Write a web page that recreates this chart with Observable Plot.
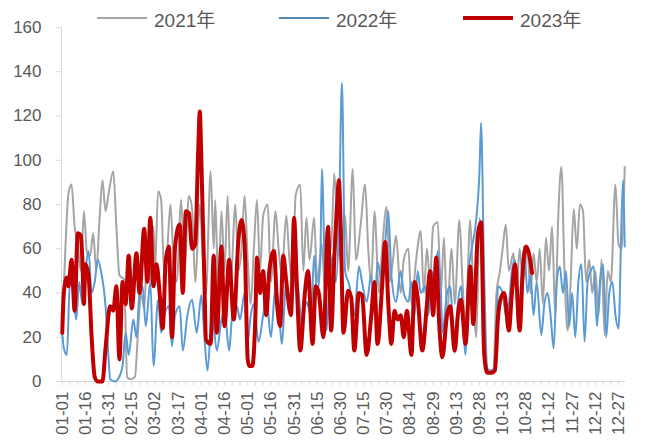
<!DOCTYPE html>
<html><head><meta charset="utf-8">
<script src="https://cdn.jsdelivr.net/npm/d3@7"></script>
<script src="https://cdn.jsdelivr.net/npm/@observablehq/plot@0.6"></script>
<style>
body{margin:0;background:#fff;}
#wrap{position:relative;width:663px;height:445px;overflow:hidden;}
#legend{position:absolute;top:0;left:0;width:663px;height:38px;font-family:"Liberation Sans","Noto Sans CJK SC",sans-serif;font-size:19px;color:#595959;z-index:2;}
.item{position:absolute;top:7px;height:22px;display:flex;align-items:center;white-space:nowrap;}
.sw{display:inline-block;width:50px;margin-right:7px;}
#chart{position:absolute;top:0;left:0;}
</style></head>
<body><div id="wrap"><div id="legend"></div><div id="chart"></div></div>
<script>
// Series names
const seriesNames = ["2021年", "2022年", "2023年"];

// x tick labels (every 15 days from 01-01)
const tickLabels = ["01-01","01-16","01-31","02-15","03-02","03-17","04-01","04-16","05-01","05-16","05-31","06-15","06-30","07-15","07-30","08-14","08-29","09-13","09-28","10-13","10-28","11-12","11-27","12-12","12-27"];
const labelDays = tickLabels.map((_, i) => i * 15);
const yTicks = [0, 20, 40, 60, 80, 100, 120, 140, 160];

// 2021 (day of year index, value)
const days2021 = [0,2,4,6,8,10,12,14,16,18,20,22,24,26,28,30,33,35,37,40,42,44,47,49,51,53,55,57,59,60,62,64,66,68,70,72,74,77,79,82,84,86,89,91,93,96,98,99,101,103,105,107,109,112,114,116,118,120,122,124,126,128,130,133,135,138,140,142,145,147,149,151,154,156,158,160,163,165,168,170,172,174,176,178,180,183,185,188,190,193,196,198,200,202,205,207,210,212,214,216,219,221,224,226,229,232,234,236,238,240,243,245,247,249,252,254,257,259,261,264,266,268,270,272,274,276,279,281,283,285,287,289,292,294,296,298,301,303,305,307,309,311,313,315,317,319,321,323,325,327,329,331,333,335,337,339,341,343,345,347,349,351,353,355,358,360,362,364];
const vals2021 = [25,60,85,89,70,62,50,77,58,57,67,50,72,91,77,85,95,70,48,46,2,1,2,22,40,33,60,45,70,50,86,82,48,60,80,55,45,82,50,84,78,45,80,55,40,95,60,82,40,77,50,84,45,80,50,60,84,55,35,60,82,50,75,80,45,77,60,48,75,55,45,84,89,50,74,55,74,45,62,40,68,60,94,70,55,75,50,96,55,70,89,60,45,77,40,60,79,45,55,66,40,55,60,35,55,68,40,60,45,70,72,40,65,30,60,35,73,45,25,73,40,20,74,40,8,4,5,40,49,60,71,50,58,40,60,45,60,40,58,45,60,35,65,50,70,30,75,97,50,23,45,78,60,80,77,45,55,40,50,30,55,21,50,45,89,62,60,97];

// 2022
const days2022 = [0,1,3,5,7,9,11,13,15,17,19,21,23,25,28,30,31,34,36,39,41,43,46,48,50,52,54,57,59,62,64,66,69,71,73,76,78,81,84,87,90,92,94,97,100,103,105,108,110,113,115,118,120,122,124,127,130,132,135,138,140,142,145,148,151,153,155,158,161,163,165,167,168,170,171,173,175,177,179,181,183,186,189,192,194,197,200,202,204,207,209,211,213,216,219,221,224,226,228,230,232,235,237,239,241,243,245,246,249,251,254,256,258,261,263,265,268,270,271,273,275,277,280,282,285,287,289,291,293,295,297,299,301,303,305,307,310,312,314,316,318,320,322,324,326,328,330,332,334,336,338,340,342,344,346,348,350,352,354,356,358,360,362,363,364];
const vals2022 = [22,15,12,46,40,28,45,35,50,59,40,45,55,50,34,10,1,0,1,7,22,12,28,20,40,43,25,45,7,37,22,30,34,16,30,34,14,30,37,22,39,20,5,31,14,28,32,14,30,34,28,40,18,30,35,18,30,39,20,43,35,17,45,32,50,40,25,36,30,57,40,55,96,45,23,45,57,45,70,135,50,43,30,52,45,36,48,30,54,45,63,77,48,36,50,40,36,45,30,50,40,43,30,50,45,59,40,22,40,43,13,35,43,12,50,60,74,95,117,50,6,5,6,43,40,30,35,50,55,25,45,61,40,48,30,45,21,35,40,30,15,45,52,40,50,25,40,20,45,53,18,45,50,52,25,45,53,20,40,45,30,24,75,91,61];

// 2023 (to end of October)
const days2023 = [0,1,3,4,6,8,10,12,13,14,15,17,19,21,23,26,28,31,33,35,37,39,41,43,45,48,50,53,55,57,59,61,63,65,67,69,71,73,76,78,80,82,84,86,88,89,90,92,93,96,98,100,103,105,108,111,114,116,118,120,121,123,125,126,128,130,132,134,137,139,141,143,145,148,150,152,154,157,159,162,164,166,169,172,174,176,178,179,180,182,185,187,189,192,194,197,200,202,204,207,209,211,213,215,217,219,221,223,226,228,230,233,236,238,240,242,244,246,249,251,254,256,258,261,264,266,269,271,273,275,278,280,282,284,286,289,291,293,296,298,300,302,304];
const vals2023 = [22,40,47,43,55,32,67,66,55,35,53,48,20,2,0,0,15,34,32,43,10,45,35,57,33,58,40,69,45,74,43,53,40,24,55,61,20,61,71,40,77,76,60,62,105,122,100,45,19,17,57,22,61,25,55,28,64,73,62,10,7,7,30,56,40,50,30,50,59,35,25,57,45,30,74,40,14,40,50,17,43,40,20,70,23,55,82,91,75,22,41,38,14,40,39,12,30,45,17,43,63,35,17,32,28,30,20,32,12,45,38,14,35,50,30,56,25,11,30,34,14,30,37,17,52,26,67,72,13,4,4,5,29,38,40,23,40,53,23,50,61,58,49];

const colors = ["#a5a5a5", "#5b9bd5", "#c00000"];
const widths = [2, 2, 4];

const toRows = (days, vals) => days.map((d, i) => ({day: d, value: vals[i]}));
const rows = [toRows(days2021, vals2021), toRows(days2022, vals2022), toRows(days2023, vals2023)];

const minorTicks = d3.range(0, 365, 5);
const xMin = -0.5, xMax = 364.5;
const font = '"Liberation Sans","Noto Sans CJK SC",sans-serif';

const chart = Plot.plot({
  width: 663, height: 445,
  marginLeft: 61, marginRight: 38, marginTop: 27, marginBottom: 64,
  x: {domain: [xMin, xMax]},
  y: {domain: [0, 160]},
  style: {fontFamily: font, fontSize: "17px", color: "#595959", background: "#fff", overflow: "visible"},
  marks: [
    Plot.ruleY([0], {stroke: "#d9d9d9", strokeWidth: 1}),
    Plot.ruleX([xMin], {stroke: "#d9d9d9", strokeWidth: 1}),
    Plot.axisY({ticks: yTicks, tickSize: 5, tickPadding: 15, stroke: "#d9d9d9", strokeOpacity: 1, fill: "#595959", fontSize: 17, label: null}),
    Plot.axisX({ticks: minorTicks, tickSize: 4, text: null, stroke: "#d9d9d9", strokeOpacity: 1, label: null}),
    Plot.axisX({ticks: labelDays, tickSize: 0, tickRotate: -90, tickPadding: 10, tickFormat: d => tickLabels[labelDays.indexOf(d)], fill: "#595959", fontSize: 17, label: null}),
    ...rows.map((r, i) => Plot.line(r, {x: "day", y: "value", stroke: colors[i], strokeWidth: widths[i], curve: "monotone-x"}))
  ]
});
document.getElementById("chart").appendChild(chart);

// Legend
const legendLeft = [97, 279, 463];
const lg = document.getElementById("legend");
seriesNames.forEach((name, i) => {
  const it = document.createElement("div");
  it.className = "item";
  it.style.left = legendLeft[i] + "px";
  const sw = document.createElement("span");
  sw.className = "sw";
  sw.style.borderTop = (i === 2 ? 4 : 2.5) + "px solid " + (i === 1 ? "#5a86b4" : colors[i]);
  it.appendChild(sw);
  const t = document.createElement("span");
  t.textContent = name;
  it.appendChild(t);
  lg.appendChild(it);
});
</script>
</body></html>
